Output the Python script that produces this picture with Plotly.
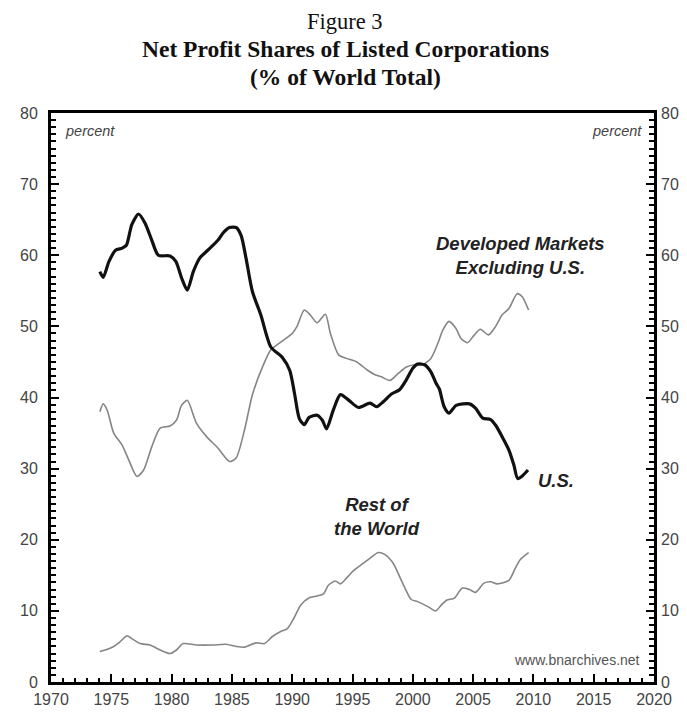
import plotly.graph_objects as go

# ---- data ----
us_year = [1974.05, 1974.33, 1974.8, 1975.35, 1975.9, 1976.25, 1976.7, 1977.26, 1977.8, 1978.36,
           1978.9, 1979.87, 1980.36, 1980.83, 1981.3, 1981.8, 1982.33, 1983.0, 1983.84, 1984.25,
           1984.8, 1985.35, 1985.76, 1986.17, 1986.7, 1987.4, 1988.23, 1989.2, 1989.8, 1990.2,
           1990.6, 1991.0, 1991.4, 1992.07, 1992.5, 1992.85, 1993.4, 1994.0, 1994.7, 1995.5,
           1996.45, 1997.0, 1997.55, 1998.23, 1998.9, 1999.47, 2000.0, 2000.4, 2000.98, 2001.5,
           2001.93, 2002.2, 2002.6, 2003.0, 2003.6, 2004.7, 2005.2, 2005.8, 2006.45, 2006.87,
           2007.56, 2007.97, 2008.38, 2008.7, 2009.1, 2009.55]
us_val = [57.7, 56.9, 59.1, 60.7, 61.0, 61.4, 64.3, 65.8, 64.5, 62.1,
          60.0, 59.9, 59.1, 56.8, 55.1, 57.7, 59.6, 60.7, 62.1, 63.1,
          63.9, 63.9, 62.8, 59.6, 54.9, 51.6, 47.1, 45.6, 43.8, 40.5,
          37.0, 36.2, 37.2, 37.5, 36.8, 35.6, 38.2, 40.4, 39.6, 38.6,
          39.2, 38.7, 39.4, 40.5, 41.1, 42.5, 44.1, 44.7, 44.6, 43.6,
          42.0, 41.2, 38.7, 37.8, 38.9, 39.1, 38.5, 37.1, 36.9, 36.1,
          34.0, 32.6, 30.5, 28.6, 29.0, 29.8]

dev_year = [1974.05, 1974.33, 1974.66, 1975.2, 1975.9, 1976.45, 1977.13, 1977.68, 1978.36, 1979.05,
            1979.87, 1980.4, 1980.83, 1981.3, 1982.06, 1982.9, 1983.84, 1984.8, 1985.35, 1986.04,
            1986.7, 1987.54, 1988.23, 1989.05, 1990.0, 1990.4, 1991.0, 1991.5, 1992.07, 1992.75,
            1993.17, 1993.85, 1994.5, 1995.35, 1996.2, 1996.87, 1997.4, 1998.1, 1998.8, 1999.47,
            2000.16, 2000.8, 2001.5, 2002.07, 2002.5, 2003.0, 2003.58, 2004.0, 2004.54, 2005.1,
            2005.6, 2006.27, 2006.87, 2007.4, 2007.97, 2008.65, 2009.06, 2009.6]
dev_val = [38.0, 39.1, 38.2, 35.0, 33.3, 31.2, 28.9, 29.8, 33.1, 35.7,
           36.0, 36.8, 38.9, 39.6, 36.4, 34.5, 32.9, 31.0, 31.5, 35.4,
           40.4, 44.3, 46.7, 47.8, 49.0, 50.0, 52.3, 51.6, 50.5, 51.7,
           49.0, 46.0, 45.5, 45.0, 43.9, 43.2, 42.9, 42.4, 43.4, 44.3,
           44.6, 44.6, 45.5, 47.6, 49.5, 50.7, 49.7, 48.3, 47.7, 48.8,
           49.6, 48.8, 50.0, 51.6, 52.5, 54.6, 54.2, 52.3]

row_year = [1974.05, 1974.5, 1975.2, 1975.75, 1976.3, 1976.7, 1977.4, 1978.2, 1979.05, 1979.87,
            1980.4, 1980.96, 1982.06, 1983.43, 1984.5, 1985.35, 1986.04, 1987.0, 1987.7, 1988.36,
            1989.05, 1989.6, 1990.15, 1990.7, 1991.38, 1992.07, 1992.6, 1993.0, 1993.58, 1994.0,
            1994.5, 1995.1, 1995.9, 1996.6, 1997.14, 1997.7, 1998.37, 1999.05, 1999.87, 2000.4,
            2001.25, 2001.9, 2002.35, 2002.8, 2003.45, 2004.1, 2004.7, 2005.2, 2005.9, 2006.45,
            2007.0, 2007.97, 2008.5, 2008.9, 2009.6]
row_val = [4.3, 4.5, 5.0, 5.7, 6.5, 6.1, 5.4, 5.2, 4.5, 4.0,
           4.5, 5.4, 5.2, 5.2, 5.3, 5.0, 4.9, 5.5, 5.4, 6.4,
           7.1, 7.5, 9.0, 10.8, 11.8, 12.1, 12.4, 13.6, 14.2, 13.8,
           14.6, 15.7, 16.7, 17.6, 18.2, 17.9, 16.7, 14.3, 11.6, 11.3,
           10.6, 10.0, 10.8, 11.5, 11.8, 13.2, 13.0, 12.6, 13.9, 14.1,
           13.8, 14.3, 16.0, 17.2, 18.2]

x_ticks = [1970, 1975, 1980, 1985, 1990, 1995, 2000, 2005, 2010, 2015, 2020]
y_ticks = [0, 10, 20, 30, 40, 50, 60, 70, 80]

SANS = "Liberation Sans, Arial, sans-serif"
SERIF = "Liberation Serif, Times New Roman, serif"
GRAY_LINE = "#858585"

W, H = 687, 712
M_L, M_R, M_T, M_B = 33, 41, 105, 30

fig = go.Figure()
fig.add_trace(go.Scatter(x=dev_year, y=dev_val, mode="lines",
                         line=dict(color=GRAY_LINE, width=1.6, shape="spline", smoothing=0.7),
                         hoverinfo="skip", showlegend=False))
fig.add_trace(go.Scatter(x=row_year, y=row_val, mode="lines", yaxis="y2",
                         line=dict(color=GRAY_LINE, width=1.6, shape="spline", smoothing=0.7),
                         hoverinfo="skip", showlegend=False))
fig.add_trace(go.Scatter(x=us_year, y=us_val, mode="lines",
                         line=dict(color="#111111", width=3.2, shape="spline", smoothing=0.7),
                         hoverinfo="skip", showlegend=False))

tick_font = dict(family=SANS, size=16, color="#444")
axis_common = dict(showgrid=False, zeroline=False)
fig.update_layout(
    width=W, height=H,
    margin=dict(l=M_L, r=M_R, t=M_T, b=M_B),
    paper_bgcolor="white", plot_bgcolor="white",
    showlegend=False,
    xaxis=dict(range=[1970, 2020], tickvals=x_ticks, ticks="inside", ticklen=8, tickwidth=2,
               tickcolor="black", showline=True, linewidth=3, linecolor="black", mirror=True,
               minor=dict(dtick=1, tick0=1970, ticks="inside", ticklen=4, tickwidth=1.5, tickcolor="black"),
               ticklabelstandoff=1, tickfont=tick_font, **axis_common),
    yaxis=dict(range=[0, 80], tickvals=y_ticks, ticks="inside", ticklen=8, tickwidth=2,
               tickcolor="black", showline=True, linewidth=3, linecolor="black", mirror="allticks",
               minor=dict(dtick=1, tick0=0, ticks="inside", ticklen=5, tickwidth=1.5, tickcolor="black"),
               ticklabelstandoff=7, tickfont=tick_font, **axis_common),
    yaxis2=dict(range=[0, 80], matches="y", overlaying="y", side="right", tickvals=y_ticks,
                ticks="", showline=False, ticklabelstandoff=6,
                tickfont=tick_font, **axis_common),
)

plot_w = W - M_L - M_R
plot_h = H - M_T - M_B


def paper_x(fig_px):
    return (fig_px - M_L) / plot_w


def paper_y(fig_px):
    return (H - M_B - fig_px) / plot_h


ann = [
    dict(text="Figure 3", x=paper_x(332), xref="paper", y=paper_y(12), yref="paper",
         yanchor="middle", showarrow=False, font=dict(family=SERIF, size=22.5, color="#111")),
    dict(text="<b>Net Profit Shares of Listed Corporations</b>", x=paper_x(332), xref="paper",
         y=paper_y(40), yref="paper", yanchor="middle", showarrow=False,
         font=dict(family=SERIF, size=23.5, color="#111")),
    dict(text="<b>(% of World Total)</b>", x=paper_x(332), xref="paper", y=paper_y(68), yref="paper",
         yanchor="middle", showarrow=False, font=dict(family=SERIF, size=23.5, color="#111")),
]

lab_font = dict(family=SANS, size=18.5, color="#222")
ann += [
    dict(text="<b><i>Developed Markets<br>Excluding U.S.</i></b>", x=2008.9, y=60.0, xref="x", yref="y",
         showarrow=False, font=lab_font),
    dict(text="<b><i>U.S.</i></b>", x=2011.9, y=28.4, xref="x", yref="y", showarrow=False, font=lab_font),
    dict(text="<b><i>Rest of<br>the World</i></b>", x=1997.0, y=23.3, xref="x", yref="y",
         showarrow=False, font=lab_font),
    dict(text="<i>percent</i>", x=1973.2, y=77.5, xref="x", yref="y", showarrow=False,
         font=dict(family=SANS, size=14.5, color="#444")),
    dict(text="<i>percent</i>", x=2016.9, y=77.5, xref="x", yref="y", showarrow=False,
         font=dict(family=SANS, size=14.5, color="#444")),
    dict(text="www.bnarchives.net", x=2013.6, y=3.1, xref="x", yref="y", showarrow=False,
         font=dict(family=SANS, size=14, color="#555")),
]
fig.update_layout(annotations=ann)

fig.write_html("out.html")
